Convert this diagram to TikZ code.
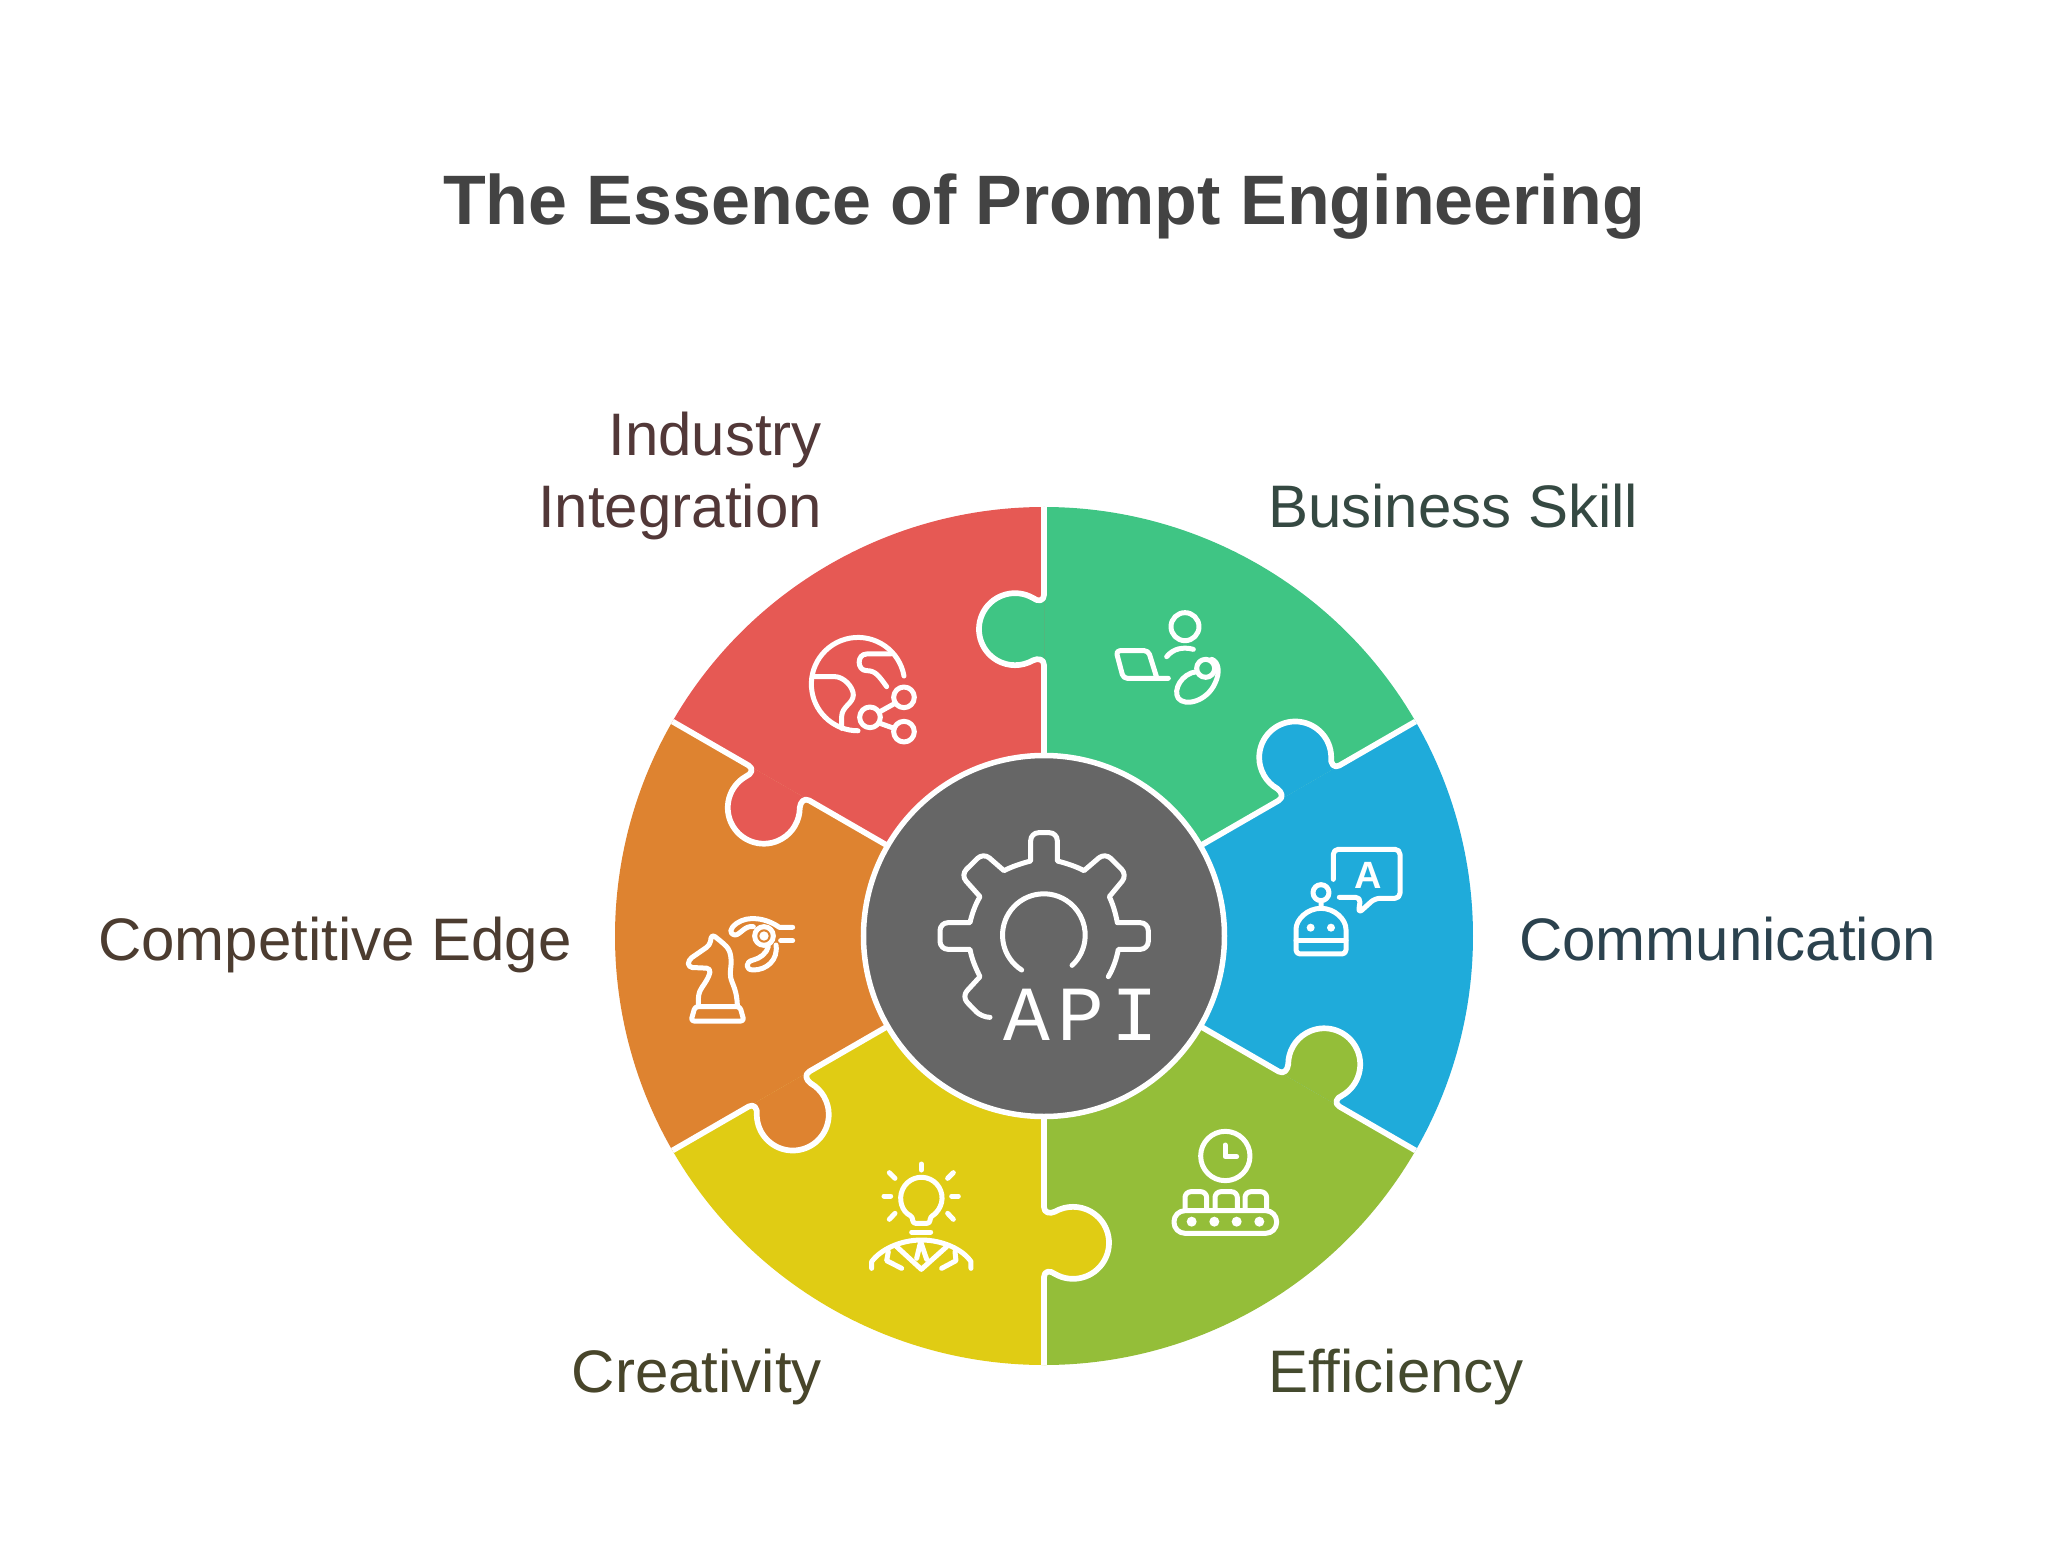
\documentclass[tikz,border=0pt]{standalone}
\usepackage{fontspec}
\setmainfont{Liberation Sans}
\newfontfamily\apifont[LetterSpace=9]{Liberation Mono}
\definecolor{piecegreen}{HTML}{3FC584}
\definecolor{pieceblue}{HTML}{1FABDA}
\definecolor{pieceolive}{HTML}{94BE39}
\definecolor{pieceyellow}{HTML}{E0CC14}
\definecolor{pieceorange}{HTML}{DE8330}
\definecolor{piecered}{HTML}{E65954}
\definecolor{hubgray}{HTML}{666666}
\definecolor{titlegray}{HTML}{434343}
\newcommand{\knobline}{(0,341) .. controls (0,335) and (-6,334) .. (-11,338) arc[start angle=60,end angle=300,radius=36] .. controls (-6,278) and (0,277) .. (0,271)}
\begin{document}
\begin{tikzpicture}[x=1pt, y=1pt,
    seamline/.style={draw=white, line width=5.7pt, line join=round},
    hubdisc/.style={circle, fill=hubgray, draw=white, line width=5.5pt, minimum size=361pt, inner sep=0pt},
    titletext/.style={inner sep=0pt, anchor=base, text=titlegray, font=\fontsize{70}{78}\selectfont\bfseries},
    labeltext/.style={inner sep=0pt, font=\fontsize{60}{72}\selectfont},
    iconframe/.style 2 args={shift={(#1-1044,936-#2)}, x=0.33333pt, y=-0.33333pt},
    iconline/.style={draw=white, line width=5pt, line cap=round, line join=round},
    icondot/.style={fill=white},
  ]
  \fill[white] (-1044,-612) rectangle (1008,936);
  \node[titletext] (title) at (0,711) {The Essence of Prompt Engineering};

  \foreach \rot/\col in {0/piecegreen, -60/pieceblue, -120/pieceolive, -180/pieceyellow, -240/pieceorange, -300/piecered}
    \fill[\col] (0,0) -- (90+\rot:429) arc[start angle=90+\rot, end angle=30+\rot, radius=429] -- cycle;
  \foreach \rot/\col in {0/piecegreen, -60/pieceblue, -120/pieceolive, -180/pieceyellow, -240/pieceorange, -300/piecered} {
    \fill[\col, rotate=\rot] \knobline -- cycle;
    \draw[seamline, rotate=\rot] (0,429) -- \knobline -- (0,170);
  }
  \node[hubdisc] (hub) at (0,0) {};

  \node[labeltext, anchor=base west, text={rgb,255:red,53;green,73;blue,66}] (business) at (224,408) {Business Skill};
  \node[labeltext, anchor=base east, align=right, text={rgb,255:red,82;green,56;blue,56}] (industry) at (-222,408) {Industry\\Integration};
  \node[labeltext, anchor=base west, text={rgb,255:red,43;green,66;blue,78}] (communication) at (475,-24) {Communication};
  \node[labeltext, anchor=base east, text={rgb,255:red,76;green,60;blue,48}] (competitive) at (-472,-24) {Competitive Edge};
  \node[labeltext, anchor=base east, text={rgb,255:red,72;green,69;blue,42}] (creativity) at (-222,-456) {Creativity};
  \node[labeltext, anchor=base west, text={rgb,255:red,68;green,74;blue,46}] (efficiency) at (224,-456) {Efficiency};

  \begin{scope}[iconframe={900}{780}]
    \draw[iconline] (270,712) [rounded corners=8pt] -- (245,712) -- (185,650) [sharp corners] -- (240,590) .. controls (225,560) and (215,535) .. (210,508) [rounded corners=8pt] -- (120,508) -- (120,428) [sharp corners] -- (210,428) .. controls (215,405) and (225,375) .. (240,350) [rounded corners=8pt] -- (182,285) -- (250,218) [sharp corners] -- (312,272) .. controls (335,260) and (365,250) .. (392,243) [rounded corners=8pt] -- (392,158) -- (472,158) [sharp corners] -- (472,243) .. controls (500,250) and (530,260) .. (552,272) [rounded corners=8pt] -- (615,218) -- (682,285) [sharp corners] -- (628,350) .. controls (640,375) and (648,405) .. (652,428) [rounded corners=8pt] -- (745,428) -- (745,508) [sharp corners] -- (655,508) .. controls (650,535) and (640,565) .. (625,590);
    \draw[iconline] (365,570) arc[start angle=122.5, end angle=407, radius=124];
    \node[inner sep=0pt, anchor=base, text=white, font=\fontsize{78}{78}\selectfont\apifont] (api) at (543,780) {API};
  \end{scope}

  \begin{scope}[iconframe={600}{480}]
    \draw[iconline] (912,588) arc[start angle=-10, end angle=-270, radius=140];
    \draw[iconline] (872,522) -- (800,522) .. controls (770,522) and (770,572) .. (800,572) .. controls (825,572) and (835,585) .. (860,620);
    \draw[iconline] (640,590) -- (705,590) .. controls (730,590) and (760,620) .. (760,645) .. controls (760,670) and (725,680) .. (725,710) -- (725,745);
    \draw[iconline] (912,652) circle[radius=31] (810,712) circle[radius=31] (912,755) circle[radius=31];
    \draw[iconline] (840,695) -- (885,670) (840,730) -- (882,745);
  \end{scope}

  \begin{scope}[iconframe={1040}{480}]
    \draw[iconline] (435,440) circle[radius=42];
    \draw[iconline] (380,530) .. controls (400,505) and (430,500) .. (460,508);
    \draw[iconline, rounded corners=4pt] (385,595) -- (250,595) -- (228,512) -- (325,512) -- (350,592);
    \draw[iconline] (470,575) .. controls (425,580) and (398,630) .. (415,655) .. controls (435,680) and (500,665) .. (525,610) .. controls (542,575) and (535,545) .. (515,538);
    \draw[iconline] (497,565) circle[radius=27];
    \draw[iconline, rounded corners=5pt] (880,1198) -- (880,1108) -- (1080,1108) -- (1080,1255) -- (1005,1255) -- (955,1300) -- (962,1252) -- (898,1252);
    \node[inner sep=0pt, text=white, font=\fontsize{38}{38}\selectfont\bfseries] (speech) at (985,1185) {A};
    \draw[iconline] (843,1238) circle[radius=24] (843,1262) -- (843,1285);
    \draw[iconline, rounded corners=4pt] (768,1360) arc[start angle=180, end angle=360, radius=75] -- (918,1422) -- (768,1422) -- cycle;
    \draw[iconline] (768,1382) -- (918,1382);
    \fill[icondot] (812,1343) circle[radius=12] (873,1343) circle[radius=12];
  \end{scope}

  \begin{scope}[iconframe={620}{830}]
    \draw[iconline, rounded corners=3pt] (225,530) -- (360,530) -- (372,573) -- (213,573) -- cycle;
    \draw[iconline, rounded corners=4pt] (235,530) -- (235,495) .. controls (245,470) and (265,450) .. (272,415) -- (205,412) -- (205,390) -- (270,345) -- (275,312) -- (310,340) .. controls (335,365) and (335,395) .. (330,430) .. controls (335,460) and (352,480) .. (352,530);
    \draw[iconline] (432,318) circle[radius=28];
    \fill[icondot] (432,318) circle[radius=14];
    \draw[iconline] (400,290) .. controls (375,285) and (360,315) .. (345,315) .. controls (325,310) and (330,295) .. (350,280) .. controls (385,255) and (440,265) .. (478,292) -- (518,292);
    \draw[iconline] (482,332) -- (518,332);
    \draw[iconline] (468,345) .. controls (475,390) and (440,420) .. (400,420) .. controls (375,420) and (375,395) .. (400,390) .. controls (420,385) and (440,370) .. (445,350);
  \end{scope}

  \begin{scope}[iconframe={800}{1100}]
    \draw[iconline, rounded corners=3pt] (338,350) arc[start angle=115, end angle=425, radius=62] -- (390,370) -- (338,370) -- cycle;
    \draw[iconline] (335,396) -- (392,396);
    \foreach \fromx/\fromy/\tox/\toy in {364/192/364/210, 268/218/285/235, 460/218/443/235, 252/288/272/288, 455/288/475/288, 268/358/285/340, 443/340/460/358}
      \draw[iconline] (\fromx,\fromy) -- (\tox,\toy);
    \draw[iconline] (215,505) -- (215,485) .. controls (240,450) and (300,420) .. (364,420) .. controls (430,420) and (490,450) .. (513,485) -- (513,505);
    \draw[iconline] (265,455) -- (260,482) -- (305,505) (465,455) -- (468,482) -- (425,505);
    \draw[iconline] (290,440) -- (364,508) -- (440,440);
    \draw[iconline] (350,475) -- (362,425) -- (380,478);
  \end{scope}

  \begin{scope}[iconframe={1100}{1000}]
    \draw[iconline] (376,468) circle[radius=74];
    \draw[iconline] (375,435) -- (375,470) -- (410,470);
    \foreach \boxleft/\boxright in {255/320, 345/412, 435/500}
      \draw[iconline, rounded corners=6pt] (\boxleft,630) -- (\boxleft,575) -- (\boxright,575) -- (\boxright,630);
    \draw[iconline, rounded corners=11pt] (222,632) rectangle (530,700);
    \foreach \dotx in {275, 343, 410, 478}
      \fill[icondot] (\dotx,665) circle[radius=15];
  \end{scope}
\end{tikzpicture}
\end{document}
